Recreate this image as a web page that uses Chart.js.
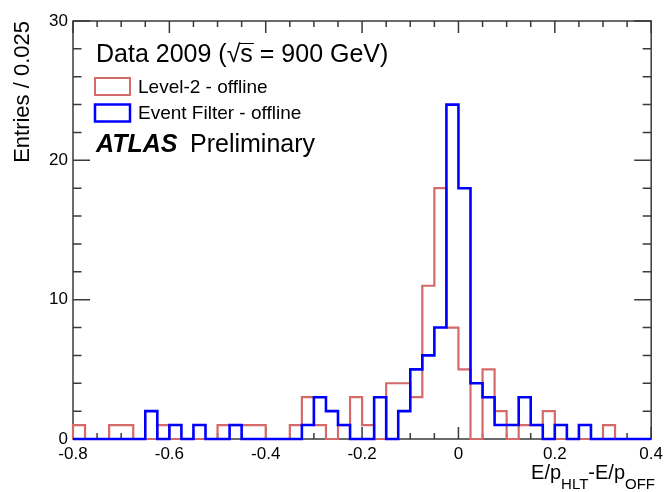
<!DOCTYPE html>
<html>
<head>
<meta charset="utf-8">
<script src="https://cdn.jsdelivr.net/npm/chart.js@4.4.0/dist/chart.umd.min.js"></script>
<style>
  html, body { margin: 0; padding: 0; background: #fff; }
</style>
</head>
<body>
<canvas id="myChart" width="668" height="492"></canvas>
<script>
// histogram binning: 48 bins of 0.025 from -0.8 to 0.4
const binLow = -0.8;
const binWidth = 0.025;

// Level-2 - offline (red)
const level2 = [
  1, 0, 0, 1, 1, 0, 0, 1, 0, 0, 0, 0,
  1, 1, 1, 1, 0, 0, 1, 3, 1, 0, 1, 3,
  1, 0, 4, 4, 3, 11, 18, 8, 5, 0, 5, 2,
  0, 1, 1, 2, 0, 0, 0, 0, 1, 0, 0, 0
];

// Event Filter - offline (blue)
const eventFilter = [
  0, 0, 0, 0, 0, 0, 2, 0, 1, 0, 1, 0,
  0, 1, 0, 0, 0, 0, 0, 1, 3, 2, 1, 0,
  0, 3, 0, 2, 5, 6, 8, 24, 18, 4, 3, 1,
  1, 3, 1, 0, 1, 0, 1, 0, 0, 0, 0, 0
];

const xTicks = [-0.8, -0.6, -0.4, -0.2, 0, 0.2, 0.4];
const yTicks = [0, 10, 20, 30];

const FONT = "'Liberation Sans', Arial, Helvetica, sans-serif";
const RED = "#d46a6a";
const BLUE = "#0000ff";

// outline points for a stepped histogram
function stepPoints(values) {
  const end = binLow + values.length * binWidth;
  const pts = [{ x: binLow, y: 0 }];
  values.forEach((v, i) => pts.push({ x: binLow + i * binWidth, y: v }));
  pts.push({ x: end, y: values[values.length - 1] });
  pts.push({ x: end, y: 0 });
  return pts;
}

// frame + inside ticks like ROOT
const framePlugin = {
  id: "frame",
  beforeDatasetsDraw(chart) {
    const { ctx, chartArea: a, scales } = chart;
    const xs = scales.x, ys = scales.y;
    ctx.save();
    ctx.strokeStyle = "#3a3a3a";
    ctx.lineWidth = 1.5;
    ctx.strokeRect(a.left, a.top, a.right - a.left, a.bottom - a.top);
    ctx.beginPath();
    for (let k = 0; k <= 24; k++) {
      const v = binLow + k * 0.05;
      const px = xs.getPixelForValue(v);
      const len = k % 4 === 0 ? 12 : 6;
      ctx.moveTo(px, a.bottom); ctx.lineTo(px, a.bottom - len);
      ctx.moveTo(px, a.top); ctx.lineTo(px, a.top + len);
    }
    for (let k = 0; k <= 15; k++) {
      const py = ys.getPixelForValue(k * 2);
      const len = k % 5 === 0 ? 17 : 8.5;
      ctx.moveTo(a.left, py); ctx.lineTo(a.left + len, py);
      ctx.moveTo(a.right, py); ctx.lineTo(a.right - len, py);
    }
    ctx.stroke();
    ctx.restore();
  },
  afterDraw(chart) {
    const { ctx, chartArea: a } = chart;
    ctx.save();
    ctx.fillStyle = "#000";
    ctx.textBaseline = "alphabetic";

    // y title
    ctx.save();
    ctx.translate(29, a.top);
    ctx.rotate(-Math.PI / 2);
    ctx.textAlign = "right";
    ctx.font = "22px " + FONT;
    ctx.fillText("Entries / 0.025", 0, 0);
    ctx.restore();

    // x title with subscripts
    const parts = [
      ["E/p", "20px", 0],
      ["HLT", "15px", 10.5],
      ["-E/p", "20px", 0],
      ["OFF", "15px", 10.5]
    ];
    let total = 0;
    parts.forEach(p => { ctx.font = p[1] + " " + FONT; total += ctx.measureText(p[0]).width; });
    let x = 655 - total;
    ctx.textAlign = "left";
    parts.forEach(p => {
      ctx.font = p[1] + " " + FONT;
      ctx.fillText(p[0], x, 478.5 + p[2]);
      x += ctx.measureText(p[0]).width;
    });

    // header
    ctx.font = "25px " + FONT;
    const head = "Data 2009 (\u221As = 900 GeV)";
    ctx.fillText(head, 96, 62);
    const sx0 = 96 + ctx.measureText("Data 2009 (\u221A").width;
    const sx1 = 96 + ctx.measureText("Data 2009 (\u221As").width;
    ctx.strokeStyle = "#000";
    ctx.lineWidth = 1;
    ctx.beginPath();
    ctx.moveTo(sx0 - 1, 43.5); ctx.lineTo(sx1 + 1, 43.5);
    ctx.stroke();

    // legend entries
    ctx.lineWidth = 2;
    ctx.strokeStyle = RED;
    ctx.strokeRect(95, 78, 35, 17);
    ctx.lineWidth = 2.5;
    ctx.strokeStyle = BLUE;
    ctx.strokeRect(95, 104.5, 35, 17);
    ctx.font = "19px " + FONT;
    ctx.fillText("Level-2 - offline", 138, 93);
    ctx.fillText("Event Filter - offline", 138, 119);

    // ATLAS label
    ctx.font = "italic bold 25px " + FONT;
    ctx.fillText("ATLAS", 96, 152);
    ctx.font = "25px " + FONT;
    ctx.fillText("Preliminary", 190, 152);
    ctx.restore();
  }
};

new Chart(document.getElementById("myChart"), {
  type: "line",
  data: {
    datasets: [
      {
        label: "Level-2 - offline",
        data: stepPoints(level2),
        stepped: "before",
        borderColor: RED,
        borderWidth: 2.2,
        pointRadius: 0,
        fill: false,
        clip: 6,
        order: 2,
      },
      {
        label: "Event Filter - offline",
        data: stepPoints(eventFilter),
        stepped: "before",
        borderColor: BLUE,
        borderWidth: 2.6,
        pointRadius: 0,
        fill: false,
        clip: 6,
        order: 1,
      },
    ],
  },
  options: {
    responsive: false,
    animation: false,
    devicePixelRatio: 1,
    layout: { padding: { top: 21, right: 15, left: 0, bottom: 0 } },
    plugins: {
      legend: { display: false },
      tooltip: { enabled: false },
    },
    scales: {
      x: {
        type: "linear",
        min: -0.8,
        max: 0.4,
        grid: { display: false, drawTicks: false, tickLength: 0 },
        border: { display: false },
        afterBuildTicks: (s) => { s.ticks = xTicks.map(v => ({ value: v })); },
        afterFit: (s) => { s.height = 53; },
        ticks: {
          color: "#000",
          font: { family: FONT, size: 17 },
          padding: 5,
          maxRotation: 0,
          autoSkip: false,
          callback: (v) => String(+v.toFixed(1)),
        },
      },
      y: {
        min: 0,
        max: 30,
        grid: { display: false, drawTicks: false, tickLength: 0 },
        border: { display: false },
        afterBuildTicks: (s) => { s.ticks = yTicks.map(v => ({ value: v })); },
        afterFit: (s) => { s.width = 73; },
        ticks: {
          color: "#000",
          font: { family: FONT, size: 17 },
          padding: 5,
        },
      },
    },
  },
  plugins: [framePlugin],
});
</script>
</body>
</html>
